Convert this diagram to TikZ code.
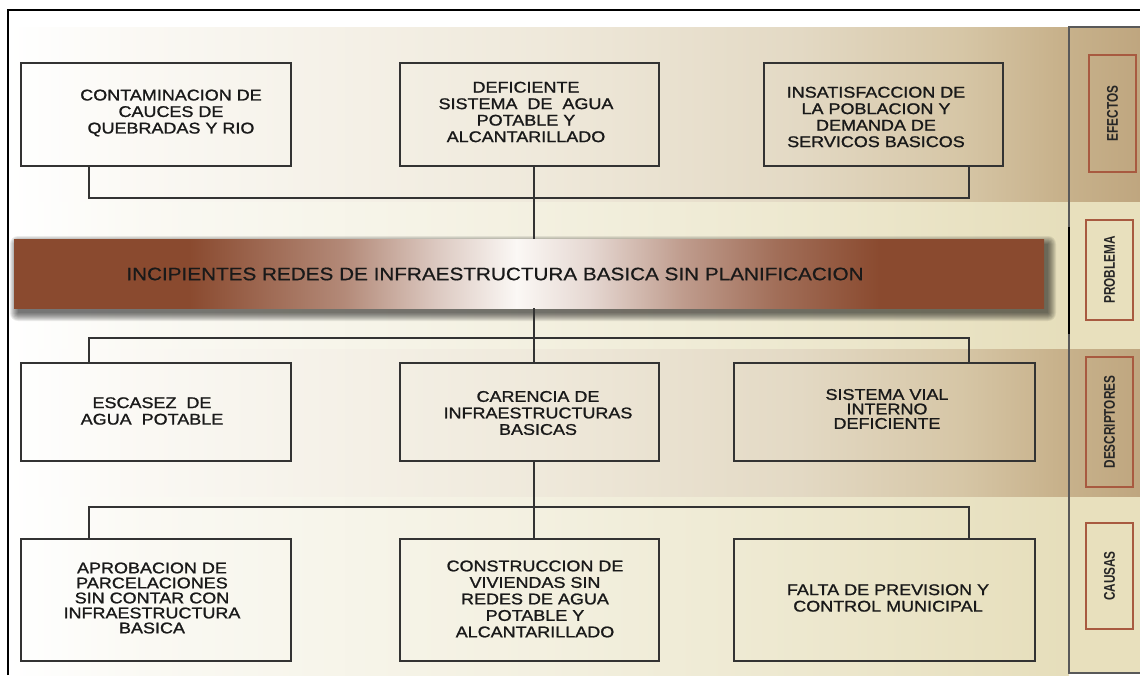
\documentclass[tikz,border=0pt]{standalone}
\usepackage{fontspec}
\setmainfont{Liberation Sans}
\newfontfamily\boxfont[FakeStretch=1.16,FakeBold=1.2]{Liberation Sans}
\newfontfamily\barfont[FakeStretch=1.15,FakeBold=0.6]{Liberation Sans}
\newfontfamily\tabfont[FakeStretch=0.76]{Liberation Sans Bold}
\usetikzlibrary{calc}

\definecolor{barbrown}{HTML}{8A4A2F}
\colorlet{barA}{barbrown!65!white}
\colorlet{barB}{barbrown!30!white}
\colorlet{barC}{barbrown!22!white}
\colorlet{barD}{barbrown!55!white}
\colorlet{barE}{barbrown!80!white}
\definecolor{barW}{HTML}{FBF8F5}
\definecolor{tanA}{HTML}{FAF8F3}
\definecolor{tanB}{HTML}{EFE9DB}
\definecolor{tanC}{HTML}{E3D9C4}
\definecolor{tanD}{HTML}{D6C6A6}
\definecolor{tanE}{HTML}{C6AF88}
\definecolor{panelT}{HTML}{C7B18B}
\definecolor{panelTR}{HTML}{BFA67F}
\definecolor{creamA}{HTML}{FAF9F3}
\definecolor{creamB}{HTML}{F3F0E0}
\definecolor{creamC}{HTML}{EDE8CF}
\definecolor{creamE}{HTML}{E6DEBB}
\definecolor{panelC}{HTML}{E8E0BD}
\definecolor{tabred}{HTML}{A85A40}
\definecolor{lineg}{HTML}{333333}

\pgfdeclarehorizontalshading{tanband}{100bp}{color(0bp)=(white); color(25bp)=(white); color(31.7bp)=(tanA); color(50bp)=(tanB); color(62.3bp)=(tanC); color(69.9bp)=(tanD); color(75bp)=(tanE); color(100bp)=(tanE)}
\pgfdeclarehorizontalshading{creamband}{100bp}{color(0bp)=(white); color(25bp)=(white); color(31.7bp)=(creamA); color(50bp)=(creamB); color(62.3bp)=(creamC); color(75bp)=(creamE); color(100bp)=(creamE)}
\pgfdeclarehorizontalshading{barshade}{100bp}{color(0bp)=(barbrown); color(33.5bp)=(barbrown); color(41bp)=(barA); color(45.5bp)=(barB); color(49.4bp)=(barW); color(53bp)=(barC); color(57.5bp)=(barD); color(62bp)=(barE); color(67bp)=(barbrown); color(100bp)=(barbrown)}

\tikzset{
  box/.style={draw=lineg, line width=1.5pt, inner sep=0pt},
  txt/.style={font=\boxfont\fontsize{15.5pt}{16.5pt}\selectfont, align=center, inner sep=0pt, text=black!90},
  conn/.style={draw=lineg, line width=1.5pt},
  tab/.style={draw=tabred, line width=2pt, rotate=90, inner sep=0pt, font=\tabfont\fontsize{15.5pt}{15.5pt}\selectfont, text=black!85},
  panel/.style={draw=black!65, line width=1.5pt}
}

\begin{document}
\begin{tikzpicture}[x=1pt,y=-1pt]
\useasboundingbox (0,0) rectangle (1140,675);
\fill[white] (0,0) rectangle (1140,675);

% background bands
\shade[shading=tanband] (8,27) rectangle (1069,202);
\shade[shading=creamband] (8,202) rectangle (1069,349);
\shade[shading=tanband] (8,349) rectangle (1069,497);
\shade[shading=creamband] (8,497) rectangle (1069,675);
\shade[left color=panelT, right color=panelTR] (1069,27) rectangle (1140,202);
\fill[panelC] (1069,202) rectangle (1140,349);
\shade[left color=panelT, right color=panelTR] (1069,349) rectangle (1140,497);
\fill[panelC] (1069,497) rectangle (1140,673);

% outer frame and side panel
\draw[black, line width=2.5pt] (8,675) -- (8,10) -- (1140,10);
\draw[panel] (1140,27) -- (1069,27) -- (1069,673) -- (1140,673);
\draw[black, line width=2.5pt] (1069,227) -- (1069,334);

% tabs
\node[tab, minimum width=117pt, minimum height=47pt] (tefe) at (1112.5,113.5) {EFECTOS};
\node[tab, minimum width=100pt, minimum height=47pt] (tpro) at (1109.5,270) {PROBLEMA};
\node[tab, minimum width=130pt, minimum height=47pt] (tdes) at (1109.5,422) {DESCRIPTORES};
\node[tab, minimum width=106pt, minimum height=47pt] (tcau) at (1109.5,576) {CAUSAS};

% boxes
\node[box, minimum width=270pt, minimum height=103pt] (b1) at (156,114.5) {};
\node[box, minimum width=259pt, minimum height=103pt] (b2) at (529.5,114.5) {};
\node[box, minimum width=239pt, minimum height=103pt] (b3) at (883.5,114.5) {};
\node[box, minimum width=270pt, minimum height=98pt] (b4) at (156,412) {};
\node[box, minimum width=259pt, minimum height=98pt] (b5) at (529.5,412) {};
\node[box, minimum width=301pt, minimum height=98pt] (b6) at (884.5,412) {};
\node[box, minimum width=270pt, minimum height=122pt] (b7) at (156,600) {};
\node[box, minimum width=259pt, minimum height=122pt] (b8) at (529.5,600) {};
\node[box, minimum width=301pt, minimum height=122pt] (b9) at (884.5,600) {};

% box texts
\node[txt] (t1) at (171,113) {CONTAMINACION DE\\CAUCES DE\\QUEBRADAS Y RIO};
\node[txt] (t2) at (526,112) {DEFICIENTE\\SISTEMA~~DE~~AGUA\\POTABLE Y\\ALCANTARILLADO};
\node[txt] (t3) at (876,117) {INSATISFACCION DE\\LA POBLACION Y\\DEMANDA DE\\SERVICOS BASICOS};
\node[txt] (t4) at (152,411) {ESCASEZ~~DE\\AGUA~~POTABLE};
\node[txt] (t5) at (538,413) {CARENCIA DE\\INFRAESTRUCTURAS\\BASICAS};
\node[txt, font=\boxfont\fontsize{15.5pt}{14.5pt}\selectfont] (t6) at (887,409) {SISTEMA VIAL\\INTERNO\\DEFICIENTE};
\node[txt, font=\boxfont\fontsize{15.5pt}{15pt}\selectfont] (t7) at (152,598) {APROBACION DE\\PARCELACIONES\\SIN CONTAR CON\\INFRAESTRUCTURA\\BASICA};
\node[txt] (t8) at (535,599) {CONSTRUCCION DE\\VIVIENDAS SIN\\REDES DE AGUA\\POTABLE Y\\ALCANTARILLADO};
\node[txt] (t9) at (888,598) {FALTA DE PREVISION Y\\CONTROL MUNICIPAL};

% problem bar with soft shadow
\coordinate (bnw) at (14,239);
\coordinate (bse) at (1044,308);
\foreach \r in {0,1,...,8}{
  \fill[black, opacity=0.08, rounded corners=\r pt]
    ($(bnw)+(4-\r,5-\r)$) rectangle ($(bse)+(4+\r,5+\r)$);
}
\node[shading=barshade, minimum width=1030pt, minimum height=69pt, inner sep=0pt] (bar) at (529,273.5) {};
\node[font=\barfont\fontsize{18pt}{18pt}\selectfont, text=black!90, inner sep=0pt] (bart) at (495,274) {INCIPIENTES REDES DE INFRAESTRUCTURA BASICA SIN PLANIFICACION};

% connectors
\coordinate (xl) at (89,0);
\coordinate (xm) at (534,0);
\coordinate (xr) at (969,0);
\coordinate (ya) at (0,198);
\coordinate (yb) at (0,338);
\coordinate (yc) at (0,507);
\draw[conn] (b1.south -| xl) -- (xl |- ya) -- (xr |- ya) -- (b3.south -| xr);
\draw[conn] (b2.south -| xm) -- (bar.north -| xm);
\draw[conn] (bar.south -| xm) -- (b5.north -| xm);
\draw[conn] (b4.north -| xl) -- (xl |- yb) -- (xr |- yb) -- (b6.north -| xr);
\draw[conn] (b5.south -| xm) -- (b8.north -| xm);
\draw[conn] (b7.north -| xl) -- (xl |- yc) -- (xr |- yc) -- (b9.north -| xr);
\end{tikzpicture}
\end{document}
